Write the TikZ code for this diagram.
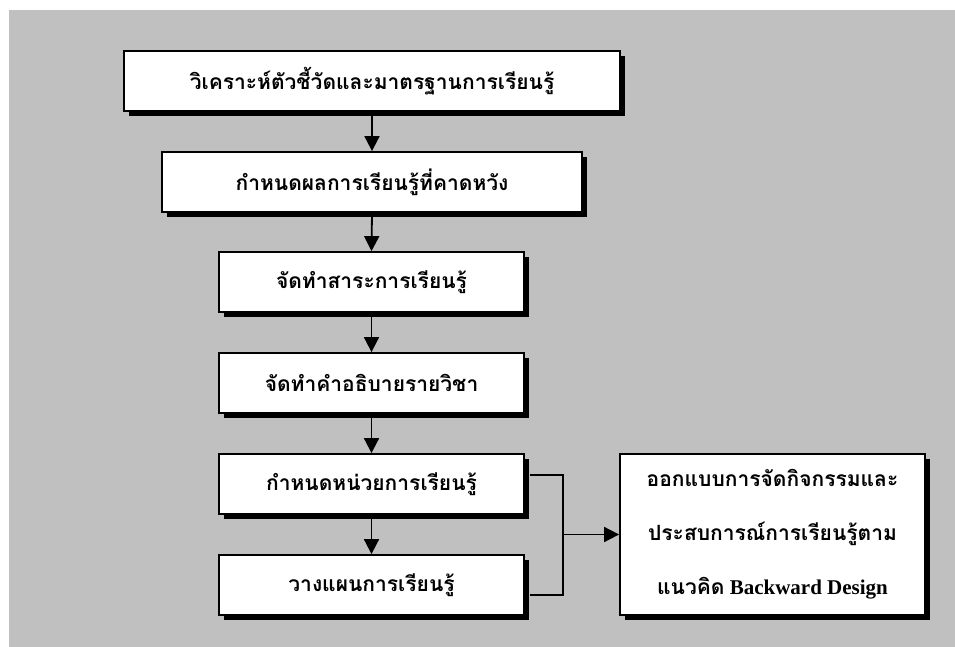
\documentclass[tikz,border=0pt]{standalone}
\usepackage{fontspec}
\setmainfont{Liberation Serif}
\newfontfamily\thaifont[Script=Thai]{Loma}
\usetikzlibrary{arrows.meta,shadows}
\definecolor{bggray}{RGB}{192,192,192}
\tikzset{
  stepbox/.style={draw=black, line width=1.8pt, fill=white, inner sep=0pt,
    drop shadow={shadow xshift=5pt, shadow yshift=-5pt, opacity=1, fill=black},
    font=\thaifont\bfseries\fontsize{21}{25}\selectfont, minimum height=60pt},
  conn/.style={line width=1.8pt},
  arr/.style={conn, -{Triangle[length=15pt,width=15pt]}}
}
\begin{document}
\begin{tikzpicture}[x=1pt,y=-1pt]
\useasboundingbox (0,0) rectangle (955,647);
\fill[bggray] (9,10) rectangle (955,647);
\node[stepbox, minimum width=496pt] (b1) at (372,81) {วิเคราะห์ตัวชี้วัดและมาตรฐานการเรียนรู้};
\node[stepbox, minimum width=420pt] (b2) at (372,182) {กำหนดผลการเรียนรู้ที่คาดหวัง};
\node[stepbox, minimum width=305pt] (b3) at (371.5,282) {จัดทำสาระการเรียนรู้};
\node[stepbox, minimum width=305pt] (b4) at (371.5,383) {จัดทำคำอธิบายรายวิชา};
\node[stepbox, minimum width=305pt] (b5) at (371.5,484) {กำหนดหน่วยการเรียนรู้};
\node[stepbox, minimum width=305pt] (b6) at (371.5,585) {วางแผนการเรียนรู้};
\node[stepbox, minimum width=305pt, minimum height=161pt, align=center,
  font=\bfseries\fontsize{21}{54}\selectfont] (big) at (772.5,534.5)
  {{\thaifont ออกแบบการจัดกิจกรรมและ}\\{\thaifont ประสบการณ์การเรียนรู้ตาม}\\{\thaifont แนวคิด} Backward Design};
\draw[arr] (b1.south) -- (b2.north);
\draw[arr] (b2.south) -- (b3.north);
\draw[arr] (b3.south) -- (b4.north);
\draw[arr] (b4.south) -- (b5.north);
\draw[arr] (b5.south) -- (b6.north);
\coordinate (j) at (563,534.5);
\draw[conn] ([xshift=5pt,yshift=9pt]b5.east) -| (j);
\draw[conn] ([xshift=5pt,yshift=-10pt]b6.east) -| (j);
\draw[arr] (j) -- (big.west);
\end{tikzpicture}
\end{document}
